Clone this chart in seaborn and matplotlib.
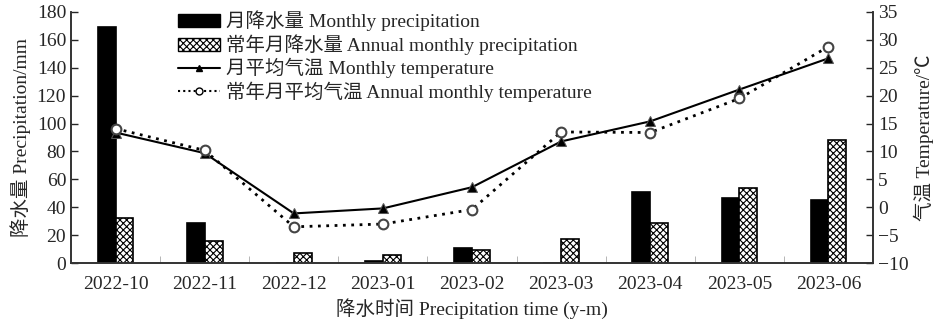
import numpy as np
import pandas as pd
import seaborn as sns
import matplotlib.pyplot as plt
from matplotlib.patches import Patch
from matplotlib.lines import Line2D

months = ["2022-10", "2022-11", "2022-12", "2023-01", "2023-02",
          "2023-03", "2023-04", "2023-05", "2023-06"]
precip = [169, 29, 0, 1.5, 11, 0, 51, 47, 45]
precip_normal = [32, 16, 7, 5.5, 9.5, 17, 29, 54, 88]
temp = [13.4, 9.7, -1.1, -0.2, 3.6, 11.8, 15.4, 21.1, 26.7]
temp_normal = [14.1, 10.2, -3.5, -3.0, -0.4, 13.5, 13.4, 19.5, 28.8]

lab_p = "月降水量 Monthly precipitation"
lab_pn = "常年月降水量 Annual monthly precipitation"
lab_t = "月平均气温 Monthly temperature"
lab_tn = "常年月平均气温 Annual monthly temperature"

sns.set_style("ticks")
plt.rcParams['font.family'] = ['Liberation Serif', 'Noto Sans CJK SC', 'DejaVu Sans']
plt.rcParams['hatch.color'] = '#555555'
plt.rcParams['hatch.linewidth'] = 0.8

df = pd.DataFrame({
    "month": months * 2,
    "value": precip + precip_normal,
    "series": [lab_p] * len(months) + [lab_pn] * len(months),
})

fig = plt.figure(figsize=(9.43, 3.24), dpi=100)
ax = fig.add_axes([0.0753, 0.188, 0.8505, 0.775])

sns.barplot(data=df, x="month", y="value", hue="series", ax=ax,
            palette=["black", "white"], width=0.4, dodge=True,
            edgecolor="black", linewidth=1.2, legend=False)
n = len(months)
for i, p in enumerate(ax.patches[:2 * n]):
    if i >= n:
        p.set_hatch("xxxxx")

fs = 14
ax.set_ylim(0, 180)
ax.set_yticks(range(0, 181, 20))
ax.set_xlim(-0.5, n - 0.5)
ax.set_xlabel("降水时间 Precipitation time (y-m)", fontsize=fs, labelpad=4)
ax.set_ylabel("降水量 Precipitation/mm", fontsize=fs)
ax.tick_params(axis="y", direction="in", labelsize=fs, length=5, width=1)
ax.tick_params(axis="x", length=0, labelsize=fs, pad=9)
ax.set_xticks(np.arange(0.5, n - 1, 1), minor=True)
ax.tick_params(axis="x", which="minor", direction="in", length=5, color="#aaaaaa")

ax2 = ax.twinx()
x = np.arange(n)
sns.lineplot(x=x, y=temp, ax=ax2, color="black", linewidth=1.5,
             marker="^", markersize=7, markerfacecolor="black",
             markeredgecolor="#555555", legend=False)
sns.lineplot(x=x, y=temp_normal, ax=ax2, color="black", linewidth=2,
             linestyle=(0, (1, 2)), marker="o", markersize=7,
             markerfacecolor="white", markeredgecolor="#444444",
             markeredgewidth=1.5, legend=False)
ax2.set_ylim(-10, 35)
ax2.set_yticks(range(-10, 36, 5))
ax2.set_yticklabels([str(v).replace("-", "\u2212") for v in range(-10, 36, 5)])
ax2.set_ylabel("气温 Temperature/℃", fontsize=fs)
ax2.tick_params(axis="y", direction="in", labelsize=fs, length=5, width=1)

for a in (ax, ax2):
    a.spines["top"].set_visible(False)
    for s in ("left", "bottom", "right"):
        a.spines[s].set_linewidth(1.2)
        a.spines[s].set_color("#333333")

handles = [
    Patch(facecolor="black", edgecolor="black", label=lab_p),
    Patch(facecolor="white", edgecolor="black", hatch="xxxxx", label=lab_pn),
    Line2D([], [], color="black", linewidth=1.5, marker="^", markersize=5,
           label=lab_t),
    Line2D([], [], color="black", linewidth=1.5, linestyle=(0, (1, 1.5)),
           marker="o", markersize=5, markerfacecolor="white", label=lab_tn),
]
ax2.legend(handles=handles, loc="upper left", bbox_to_anchor=(0.133, 1.005),
           frameon=False, fontsize=fs, handlelength=2.2, handleheight=0.65,
           handletextpad=0.3, labelspacing=0.15, borderaxespad=0,
           borderpad=0)

fig.savefig("out.png", dpi=100)
